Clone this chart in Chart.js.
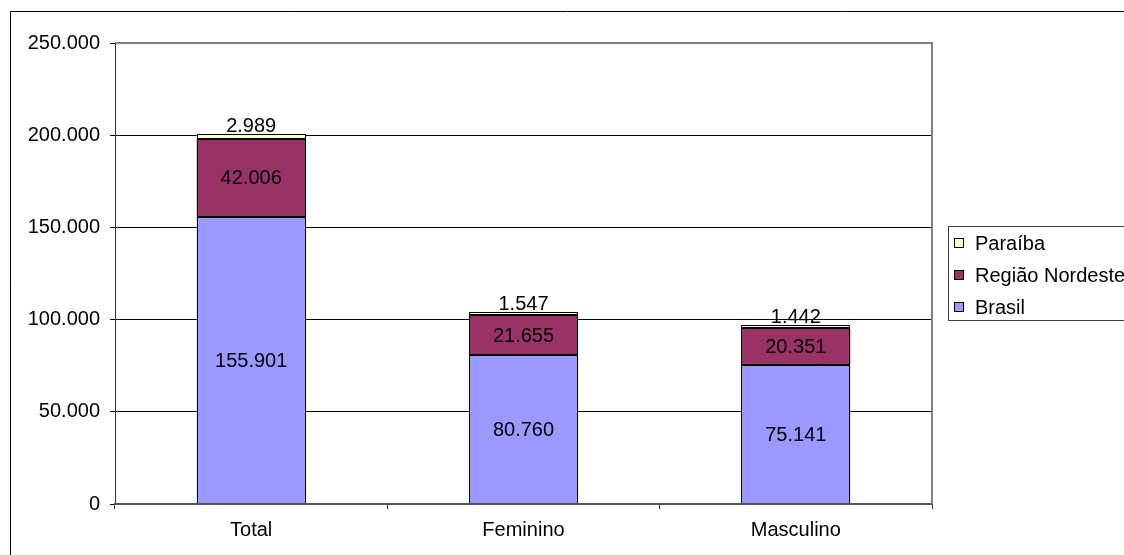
<!DOCTYPE html>
<html>
<head>
<meta charset="utf-8">
<script src="https://cdn.jsdelivr.net/npm/chart.js@4.4.1/dist/chart.umd.min.js"></script>
<style>
  html, body { margin: 0; padding: 0; background: #fff; }
  #wrap { width: 1124px; height: 555px; position: relative; }
</style>
</head>
<body>
<div id="wrap"><canvas id="c" width="1124" height="555"></canvas></div>
<script>
const categories = ['Total', 'Feminino', 'Masculino'];
const brasil = [155901, 80760, 75141];
const nordeste = [42006, 21655, 20351];
const paraiba = [2989, 1547, 1442];
const yTicks = [0, 50000, 100000, 150000, 200000, 250000];

const FONT = '"Liberation Sans", Arial, sans-serif';
function fmt(v) {
  return String(Math.round(v)).replace(/\B(?=(\d{3})+(?!\d))/g, '.');
}

const framePlugin = {
  id: 'frame',
  afterDatasetsDraw(chart) {
    const ctx = chart.ctx;
    ctx.save();
    ctx.strokeStyle = '#000';
    ctx.lineWidth = 1;
    chart.data.datasets.forEach((d, di) => {
      const meta = chart.getDatasetMeta(di);
      meta.data.forEach((bar) => {
        const l = Math.round(bar.x - bar.width / 2) + 0.5;
        const r = Math.round(bar.x + bar.width / 2) - 0.5;
        const t = Math.round(Math.min(bar.y, bar.base)) + 0.5;
        const b = Math.round(Math.max(bar.y, bar.base)) - 0.5;
        ctx.strokeRect(l, t, r - l, b - t);
      });
    });
    ctx.restore();
  },
  afterDraw(chart) {
    const ctx = chart.ctx;
    const a = chart.chartArea;
    ctx.save();
    // outer border
    ctx.strokeStyle = '#000';
    ctx.lineWidth = 1;
    ctx.beginPath();
    ctx.moveTo(10.5, 560);
    ctx.lineTo(10.5, 11.5);
    ctx.lineTo(1130, 11.5);
    ctx.stroke();
    // plot area top/right border
    ctx.strokeStyle = '#808080';
    ctx.lineWidth = 2;
    ctx.beginPath();
    ctx.moveTo(a.left, a.top);
    ctx.lineTo(a.right, a.top);
    ctx.lineTo(a.right, a.bottom);
    ctx.stroke();
    // legend
    const lx = 948.5, ly = 226.5, lw = 200, lh = 94;
    ctx.fillStyle = '#fff';
    ctx.fillRect(lx, ly, lw, lh);
    ctx.strokeStyle = '#404040';
    ctx.lineWidth = 1;
    ctx.strokeRect(lx, ly, lw, lh);
    const ds = chart.data.datasets.slice().reverse();
    ctx.font = '20px ' + FONT;
    ctx.textBaseline = 'middle';
    ctx.textAlign = 'left';
    ds.forEach((d, i) => {
      const cy = 243 + i * 32;
      ctx.fillStyle = d.backgroundColor;
      ctx.fillRect(954.5, cy - 4.5, 9, 9);
      ctx.strokeStyle = '#000';
      ctx.strokeRect(954.5, cy - 4.5, 9, 9);
      ctx.fillStyle = '#000';
      ctx.fillText(d.label, 975, cy + 1);
    });
    // data labels
    ctx.font = '20px ' + FONT;
    ctx.textAlign = 'center';
    chart.data.datasets.forEach((d, di) => {
      const meta = chart.getDatasetMeta(di);
      meta.data.forEach((bar, i) => {
        const v = d.data[i];
        ctx.fillStyle = '#000';
        if (di === 2) {
          ctx.textBaseline = 'alphabetic';
          ctx.fillText(fmt(v), bar.x, bar.y - 2);
        } else {
          ctx.textBaseline = 'middle';
          ctx.fillText(fmt(v), bar.x, (bar.y + bar.base) / 2 + 1);
        }
      });
    });
    ctx.restore();
  }
};

new Chart(document.getElementById('c'), {
  type: 'bar',
  data: {
    labels: categories,
    datasets: [
      { label: 'Brasil', data: brasil, backgroundColor: '#9999FF' },
      { label: 'Região Nordeste', data: nordeste, backgroundColor: '#993366' },
      { label: 'Paraíba', data: paraiba, backgroundColor: '#FFFFCC' }
    ].map(d => Object.assign(d, {
      borderWidth: 0,
      categoryPercentage: 1, barPercentage: 0.4
    }))
  },
  options: {
    responsive: false,
    animation: false,
    devicePixelRatio: 1,
    layout: { padding: { left: 0, top: 43, right: 192, bottom: 0 } },
    plugins: { legend: { display: false }, tooltip: { enabled: false } },
    scales: {
      x: {
        stacked: true,
        afterFit(s) { s.height = 51; },
        grid: { drawOnChartArea: false, drawTicks: true, tickLength: 5, color: '#333', offset: true },
        border: { color: '#555', width: 2, z: 1 },
        ticks: { color: '#000', font: { family: FONT, size: 20 }, padding: 9 }
      },
      y: {
        stacked: true,
        min: 0, max: 250000,
        afterFit(s) { s.width = 115; },
        afterBuildTicks(s) { s.ticks = yTicks.map(v => ({ value: v })); },
        grid: {
          color: (c) => (c.tick && c.tick.value === 250000) ? '#808080' : '#000',
          tickColor: '#000', tickLength: 5, drawTicks: true
        },
        border: { color: '#333', width: 1 },
        ticks: { color: '#000', font: { family: FONT, size: 20 }, padding: 10, callback: (v) => fmt(v) }
      }
    }
  },
  plugins: [framePlugin]
});
</script>
</body>
</html>
